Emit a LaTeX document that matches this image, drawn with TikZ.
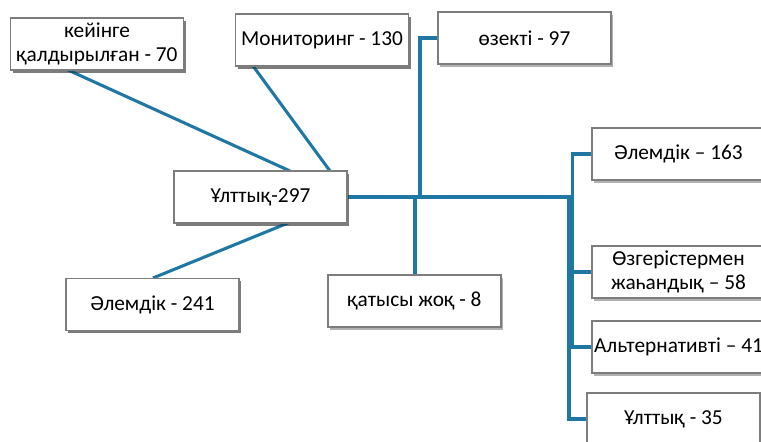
\documentclass[tikz,border=0pt]{standalone}
\usepackage{fontspec}
\setmainfont{Carlito}
\usetikzlibrary{shadows,calc}
\definecolor{linkblue}{RGB}{30,120,163}
\definecolor{boxgray}{RGB}{125,125,125}
\begin{document}
\begin{tikzpicture}[x=0.75pt,y=-0.75pt,
  box/.style={draw=boxgray, line width=1pt, fill=white,
    minimum width=129.75pt, minimum height=39pt, inner sep=0pt, align=center,
    font=\fontsize{16}{18.5}\selectfont,
    drop shadow={shadow xshift=1.5pt, shadow yshift=-2.2pt, fill=black, opacity=0.3}},
  link/.style={draw=linkblue, line width=2.3pt}]
\useasboundingbox (0,0) rectangle (761,442);

\coordinate (kT) at (68,70);
\coordinate (mT) at (253,66);
\coordinate (aT) at (153,278);
\coordinate (uA) at (290,171);
\coordinate (uB) at (330,171);
\coordinate (uC) at (288,223);
\coordinate (bA) at (420,197);
\coordinate (bB) at (415,197);
\coordinate (bR) at (573,197);
\coordinate (bS) at (569,197);

\node[box] (kein) at (97,44) {кейінге\\қалдырылған - 70};
\node[box] (mon) at (322,40) {Мониторинг - 130};
\node[box] (ozek) at (524.5,38) {өзекті - 97};
\node[box] (ult297) at (260.5,197) {Ұлттық-297};
\node[box] (alem241) at (152.5,304.5) {Әлемдік - 241};
\node[box] (katys) at (414.5,301) {қатысы жоқ - 8};
\node[box] (alem163) at (678.5,154) {Әлемдік – 163};
\node[box] (ozger) at (678.5,272) {Өзгерістермен\\жаһандық – 58};
\node[box] (alt) at (678.5,347) {Альтернативті – 41};
\node[box] (ult35) at (673.5,419) {Ұлттық - 35};

\draw[link] (kT) -- (uA);
\draw[link] (mT) -- (uB);
\draw[link] (aT) -- (uC);
\draw[link] (ult297.east) -- (bR);
\draw[link] (bA) |- (ozek.west);
\draw[link] (bB) -- (bB |- katys.north);
\draw[link] (alem163.west) -- ++(-19,0) coordinate (rTop) |- (alt.west);
\draw[link] (ozger.west) -- (ozger.west -| rTop);
\draw[link] (bS) |- (ult35.west);

% boxes redrawn on top of connector ends
\node[box] at (kein) {кейінге\\қалдырылған - 70};
\node[box] at (mon) {Мониторинг - 130};
\node[box] at (ult297) {Ұлттық-297};
\node[box] at (alem241) {Әлемдік - 241};
\end{tikzpicture}
\end{document}
